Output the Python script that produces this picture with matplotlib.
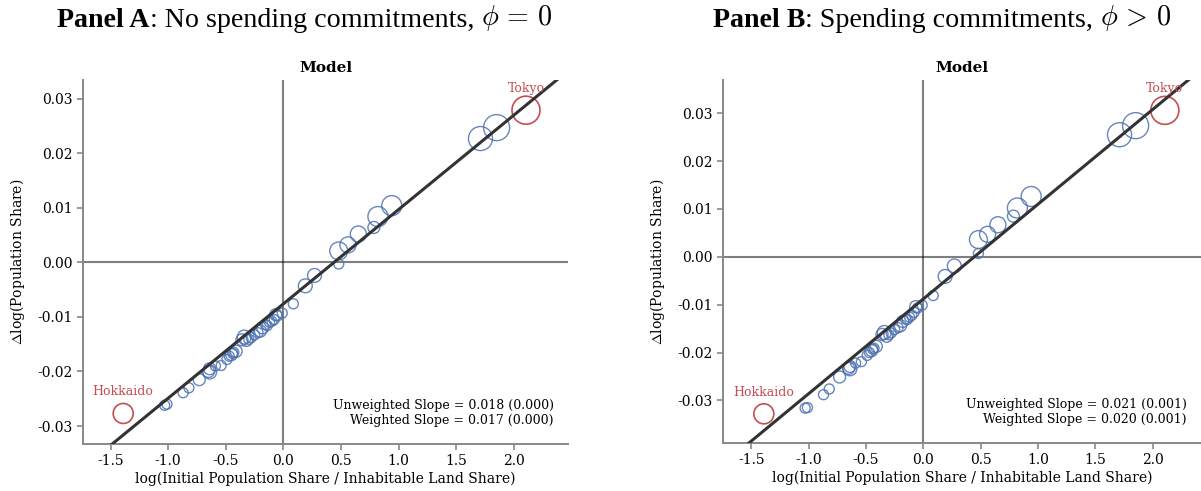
import matplotlib
matplotlib.use("Agg")
import matplotlib.pyplot as plt
from matplotlib.text import Annotation
from matplotlib.ticker import FormatStrFormatter
import numpy as np

plt.rcParams["font.family"] = "DejaVu Serif"
plt.rcParams["mathtext.fontset"] = "cm"

# log(initial population share / inhabitable land share), one entry per prefecture
log_density = [
    -1.39, -1.03, -1.01, -0.87, -0.82, -0.73, -0.64, -0.64, -0.54, -0.49,
    -0.45, -0.43, -0.41, -0.47, -0.34, -0.32, -0.28, -0.20, -0.18, -0.155,
    -0.12, -0.08, -0.066, -0.01, 0.086, 0.19, 0.27, 0.48, 0.48, 0.56,
    0.65, 0.785, 0.82, 0.94, 1.71, 1.85, 2.105, -0.44, -0.25, -0.22,
    -0.14, -0.10, -0.05, -0.65, -0.59, -0.30, -0.36,
]

# change in log population share, no spending commitments (phi = 0)
dlog_pop_a = [
    -0.0277, -0.0262, -0.0260, -0.0239, -0.0230, -0.0215, -0.0201, -0.0195, -0.0189, -0.0178,
    -0.0169, -0.0165, -0.0163, -0.0172, -0.0137, -0.0143, -0.0138, -0.0126, -0.0120, -0.0114,
    -0.0110, -0.0105, -0.0096, -0.0093, -0.0076, -0.0043, -0.0024, -0.0003, 0.0021, 0.0032,
    0.0052, 0.0064, 0.0084, 0.0104, 0.0227, 0.0247, 0.0279, -0.0167, -0.0133, -0.0129,
    -0.0116, -0.0108, -0.0098, -0.0200, -0.0190, -0.0141, -0.0142,
]

# change in log population share, with spending commitments (phi > 0)
dlog_pop_b = [
    -0.0328, -0.0316, -0.0315, -0.0288, -0.0276, -0.0251, -0.0234, -0.0229, -0.0219, -0.0206,
    -0.0196, -0.0191, -0.0187, -0.0200, -0.0158, -0.0166, -0.0159, -0.0144, -0.0135, -0.0130,
    -0.0126, -0.0116, -0.0104, -0.0101, -0.0081, -0.0041, -0.0019, 0.0007, 0.0036, 0.0047,
    0.0067, 0.0085, 0.0102, 0.0126, 0.0255, 0.0274, 0.0306, -0.0193, -0.0152, -0.0148,
    -0.0131, -0.0122, -0.0107, -0.0233, -0.0222, -0.0163, -0.0162,
]

# regression weights (population share, %)
pop_weight = [
    5.6, 1.4, 1.4, 1.4, 1.4, 2.0, 2.7, 2.0, 1.4, 1.4,
    2.0, 1.4, 2.0, 1.4, 2.7, 2.0, 1.4, 2.0, 2.0, 1.4,
    1.4, 1.4, 2.0, 1.4, 1.4, 2.7, 2.7, 1.4, 4.5, 3.6,
    3.6, 2.0, 5.6, 5.6, 8.1, 9.5, 11.0, 1.4, 1.4, 1.4,
    1.4, 1.4, 1.4, 2.0, 1.4, 1.4, 2.0,
]

HOKKAIDO, TOKYO = 0, 36

# fitted weighted regression lines and reported slopes
panels = [
    dict(dy=dlog_pop_a, slope_w=0.0173, intercept=-0.0076, slope_u=0.018, se_u=0.000, se_w=0.000,
         xlim=(-1.74, 2.47), ylim=(-0.0333, 0.0334),
         heading=("Panel A", ": No spending commitments, ", r"$\phi\,=\,0$")),
    dict(dy=dlog_pop_b, slope_w=0.0198, intercept=-0.0088, slope_u=0.021, se_u=0.001, se_w=0.001,
         xlim=(-1.746, 2.42), ylim=(-0.0389, 0.0369),
         heading=("Panel B", ": Spending commitments, ", r"$\phi\,>\,0$")),
]

BLUE = "#4C72B0"
RED = "#C44E52"
HEAD_SIZE = 20.2

fig = plt.figure(figsize=(12.01, 4.91), dpi=100)
axes_rects = [[0.069, 0.0957, 0.404, 0.741], [0.602, 0.0977, 0.398, 0.739]]
heading_x = [57 / 1201, 713 / 1201]

x = np.array(log_density)
sizes = 37 * np.array(pop_weight)

for rect, p, hx in zip(axes_rects, panels, heading_x):
    ax = fig.add_axes(rect)
    y = np.array(p["dy"])
    others = np.ones(len(x), dtype=bool)
    others[[HOKKAIDO, TOKYO]] = False

    ax.axhline(0, color="black", alpha=0.5, lw=1.5, zorder=1)
    ax.axvline(0, color="black", alpha=0.5, lw=1.5, zorder=1)

    ax.scatter(x[others], y[others], s=sizes[others], facecolors="none",
               edgecolors=BLUE, linewidths=1.0, alpha=0.85, zorder=2)
    ax.scatter(x[[HOKKAIDO, TOKYO]], y[[HOKKAIDO, TOKYO]], s=sizes[[HOKKAIDO, TOKYO]],
               facecolors="none", edgecolors=RED, linewidths=1.2, zorder=2)

    xs = np.array(p["xlim"])
    ax.plot(xs, p["intercept"] + p["slope_w"] * xs, color="#333333", lw=2.2, zorder=3)

    for idx, name in [(HOKKAIDO, "Hokkaido"), (TOKYO, "Tokyo")]:
        ax.annotate(name, (x[idx], y[idx]), xytext=(0, 11), textcoords="offset points",
                    ha="center", va="bottom", color=RED, fontsize=9)

    ax.text(0.97, 0.105, f"Unweighted Slope = {p['slope_u']:.3f} ({p['se_u']:.3f})",
            transform=ax.transAxes, ha="right", va="center", fontsize=9)
    ax.text(0.97, 0.065, f"Weighted Slope = {p['slope_w']:.3f} ({p['se_w']:.3f})",
            transform=ax.transAxes, ha="right", va="center", fontsize=9)

    ax.set_xlim(*p["xlim"])
    ax.set_ylim(*p["ylim"])
    ax.set_xticks(np.arange(-1.5, 2.01, 0.5))
    ax.set_yticks([-0.03, -0.02, -0.01, 0.0, 0.01, 0.02, 0.03])
    ax.yaxis.set_major_formatter(FormatStrFormatter("%.2f"))
    ax.xaxis.set_major_formatter(FormatStrFormatter("%.1f"))
    for s in ["top", "right"]:
        ax.spines[s].set_visible(False)
    for s in ["left", "bottom"]:
        ax.spines[s].set_color("#888888")
        ax.spines[s].set_linewidth(1.4)
    ax.tick_params(colors="#888888", labelcolor="black", labelsize=10, width=1.2, length=4)
    ax.set_title("Model", fontweight="bold", fontsize=11, pad=6)
    ax.set_xlabel("log(Initial Population Share / Inhabitable Land Share)", fontsize=10, labelpad=2)
    ax.set_ylabel(r"$\Delta$log(Population Share)", fontsize=10, labelpad=7)

    # panel heading: bold lead-in, plain text, then the phi condition, chained left to right
    bold, plain, cond = p["heading"]
    t1 = fig.text(hx, 1 - 27 / 491, bold, family="Liberation Serif", fontweight="bold",
                  fontsize=HEAD_SIZE, ha="left", va="baseline")
    t2 = fig.add_artist(Annotation(plain, xy=(1, 0), xycoords=t1, va="bottom", ha="left",
                                   family="Liberation Serif", fontsize=HEAD_SIZE))
    fig.add_artist(Annotation(cond, xy=(1, 0), xycoords=t2, va="bottom", ha="left",
                              family="Liberation Serif", fontsize=HEAD_SIZE))

fig.savefig("out.png", dpi=100)
